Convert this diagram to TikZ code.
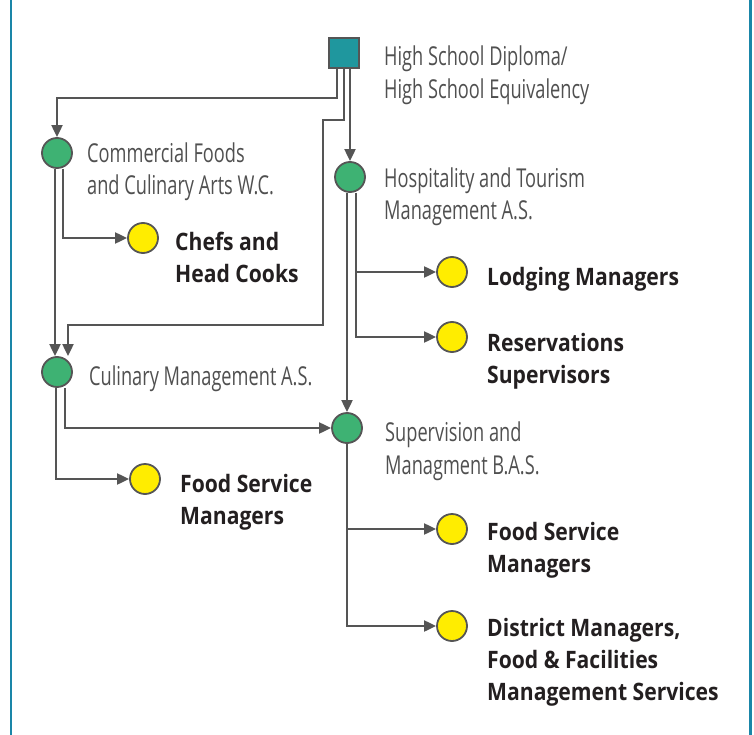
\documentclass[tikz,border=0pt]{standalone}
\usepackage{fontspec}
\setmainfont{Open Sans}
\newfontfamily\thinfont{Open Sans}[FakeStretch=0.70]
\newfontfamily\heavyfont{Open Sans}[FakeStretch=0.88]
\usepackage{tikz}
\usetikzlibrary{arrows.meta}
\usetikzlibrary{positioning}

\definecolor{frameblue}{RGB}{26,134,168}
\definecolor{sqteal}{RGB}{31,151,158}
\definecolor{nodegreen}{RGB}{62,178,115}
\definecolor{nodeyellow}{RGB}{255,237,0}
\definecolor{linegray}{RGB}{85,85,85}
\definecolor{textgray}{RGB}{80,80,80}
\definecolor{textblack}{RGB}{35,31,32}

\tikzset{
	sqbox/.style={rectangle,draw=linegray,line width=1.8pt,fill=sqteal,minimum size=30pt,inner sep=0pt},
	grn/.style={circle,draw=linegray,line width=1.8pt,fill=nodegreen,minimum size=30pt,inner sep=0pt},
	ylw/.style={circle,draw=linegray,line width=1.8pt,fill=nodeyellow,minimum size=30pt,inner sep=0pt},
	lbl/.style={anchor=base west,inner sep=0pt,align=left,text=textgray,font=\thinfont\fontsize{26}{32.5}\selectfont},
	blbl/.style={anchor=base west,inner sep=0pt,align=left,text=textblack,font=\heavyfont\bfseries\fontsize{24}{32}\selectfont},
	conn/.style={draw=linegray,line width=2pt}
}

\begin{document}
\begin{tikzpicture}[x=1pt,y=-1pt,>={Triangle[length=12pt,width=11pt]}]
	\useasboundingbox (0,0) rectangle (754,735);
	\draw[frameblue,line width=2.6pt] (11,-5) -- (11,740);
	\draw[frameblue,line width=2.6pt] (750.5,-5) -- (750.5,740);
	
	% programs
	
	\node[sqbox] (hs) at (344,53) {};
	\node[grn] (cf) at (57,153) {};
	\node[grn] (ht) at (350,177) {};
	\node[grn] (cm) at (57,372) {};
	\node[grn] (sm) at (347,428) {};
	
	% careers
	
	\node[ylw] (ch) at (143,238) {};
	\node[ylw] (lm) at (452,272) {};
	\node[ylw] (rs) at (452,337) {};
	\node[ylw] (fl) at (145,479) {};
	\node[ylw] (fr) at (452,529) {};
	\node[ylw] (dm) at (452,626) {};
	
	% texts (base = last line)
	
	\node[lbl] (hs-t) at (384,98.5) {High School Diploma/\\High School Equivalency};
	\node[lbl] (cf-t) at (87,195) {Commercial Foods\\and Culinary Arts W.C.};
	\node[lbl] (ht-t) at (384,220) {Hospitality and Tourism\\Management A.S.};
	\node[lbl] (cm-t) at (89,385) {Culinary Management A.S.};
	\node[lbl] (sm-t) at (385,474) {Supervision and\\Managment B.A.S.};
	\node[blbl] (ch-t) at (175,282) {Chefs and\\Head Cooks};
	\node[blbl] (lm-t) at (487,285) {Lodging Managers};
	\node[blbl] (rs-t) at (487,383) {Reservations\\Supervisors};
	\node[blbl] (fl-t) at (180,524) {Food Service\\Managers};
	\node[blbl] (fr-t) at (487,572) {Food Service\\Managers};
	\node[blbl] (dm-t) at (487,700) {District Managers,\\Food \& Facilities\\Management Services};
	
	% connectors
	
	\draw[conn,->] ([xshift=-7pt]hs.south) -- ++(0,29) -| (cf.north);
	\draw[conn,->] (hs.south) |- (323,120) |- (68,325) -- ([xshift=11pt]cm.north);
	\draw[conn,->] ([xshift=6pt]hs.south) -- (ht.north);
	\draw[conn,->] ([xshift=6pt]cf.south) |- (ch.west);
	\draw[conn,->] ([xshift=-2pt]cf.south) -- ([xshift=-2pt]cm.north);
	\draw[conn,->] ([xshift=6pt]ht.south) |- (lm.west);
	\draw[conn,->] ([xshift=6pt]ht.south) |- (rs.west);
	\draw[conn,->] ([xshift=-3pt]ht.south) -- (sm.north);
	\draw[conn,->] ([xshift=-1pt]cm.south) |- (fl.west);
	\draw[conn,->] ([xshift=8pt]cm.south) |- (sm.west);
	\draw[conn,->] (sm.south) |- (fr.west);
	\draw[conn,->] (sm.south) |- (dm.west);
	
\end{tikzpicture}
\end{document}
